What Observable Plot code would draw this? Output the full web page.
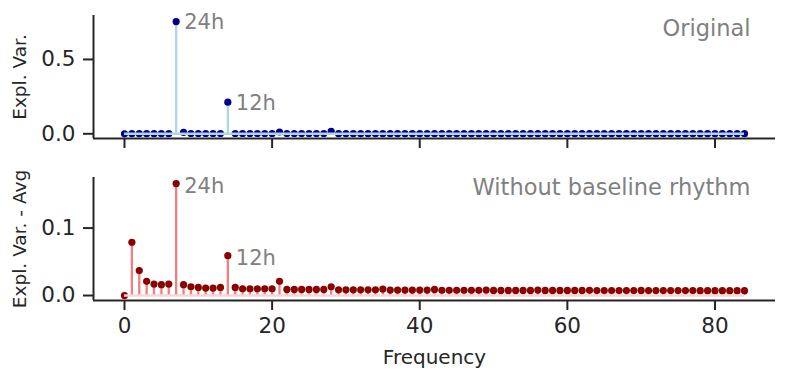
<!DOCTYPE html>
<html>
<head>
<meta charset="utf-8">
<script src="https://cdn.jsdelivr.net/npm/d3@7"></script>
<script src="https://cdn.jsdelivr.net/npm/@observablehq/plot@0.6"></script>
<style>
  html, body { margin: 0; padding: 0; background: #fff; }
  #chart { width: 788px; height: 382px; }
  #chart svg { display: block; }
</style>
</head>
<body>
<div id="chart"></div>
<script>
// ---- Data ----
const frequency = [
  0, 1, 2, 3, 4, 5, 6, 7, 8, 9,
  10, 11, 12, 13, 14, 15, 16, 17, 18, 19,
  20, 21, 22, 23, 24, 25, 26, 27, 28, 29,
  30, 31, 32, 33, 34, 35, 36, 37, 38, 39,
  40, 41, 42, 43, 44, 45, 46, 47, 48, 49,
  50, 51, 52, 53, 54, 55, 56, 57, 58, 59,
  60, 61, 62, 63, 64, 65, 66, 67, 68, 69,
  70, 71, 72, 73, 74, 75, 76, 77, 78, 79,
  80, 81, 82, 83, 84
];
const originalExplVar = [
  0.000, 0.001, 0.001, 0.001, 0.001, 0.001, 0.001, 0.755, 0.010, 0.002,
  0.002, 0.002, 0.002, 0.002, 0.213, 0.002, 0.002, 0.002, 0.002, 0.002,
  0.002, 0.012, 0.002, 0.002, 0.002, 0.002, 0.002, 0.002, 0.017, 0.001,
  0.001, 0.001, 0.001, 0.001, 0.001, 0.001, 0.001, 0.001, 0.001, 0.001,
  0.001, 0.001, 0.001, 0.001, 0.001, 0.001, 0.001, 0.001, 0.001, 0.001,
  0.001, 0.001, 0.001, 0.001, 0.001, 0.001, 0.001, 0.001, 0.001, 0.001,
  0.001, 0.001, 0.001, 0.001, 0.001, 0.001, 0.001, 0.001, 0.001, 0.001,
  0.001, 0.001, 0.001, 0.001, 0.001, 0.001, 0.001, 0.001, 0.001, 0.001,
  0.001, 0.001, 0.001, 0.001, 0.001
];
const residualExplVar = [
  0.000, 0.079, 0.037, 0.021, 0.017, 0.016, 0.017, 0.166, 0.016, 0.013,
  0.012, 0.011, 0.011, 0.012, 0.059, 0.012, 0.010, 0.010, 0.010, 0.010,
  0.010, 0.021, 0.009, 0.009, 0.009, 0.009, 0.009, 0.009, 0.013, 0.0085,
  0.0085, 0.0085, 0.0085, 0.0085, 0.0085, 0.0095, 0.008, 0.008, 0.008, 0.008,
  0.008, 0.008, 0.009, 0.0078, 0.0078, 0.0078, 0.0078, 0.0078, 0.0078, 0.0082,
  0.0076, 0.0076, 0.0076, 0.0076, 0.0076, 0.0076, 0.008, 0.0075, 0.0075, 0.0075,
  0.0075, 0.0075, 0.0075, 0.0078, 0.0074, 0.0074, 0.0074, 0.0074, 0.0074, 0.0074,
  0.0076, 0.0073, 0.0073, 0.0073, 0.0073, 0.0073, 0.0073, 0.0074, 0.0072, 0.0072,
  0.0072, 0.0072, 0.0072, 0.0072, 0.0072
];
const peakFrequencies = [7, 14];
const peakLabels = ["24h", "12h"];
const xTicks = [0, 20, 40, 60, 80];
const topYTicks = [0, 0.5];
const bottomYTicks = [0, 0.1];
const topTitle = "Original";
const bottomTitle = "Without baseline rhythm";
const topYLabel = "Expl. Var.";
const bottomYLabel = "Expl. Var. - Avg";
const xLabel = "Frequency";

// ---- Chart ----
const FONT = "DejaVu Sans, Verdana, sans-serif";
const INK = "#262626";
const xDomain = [-4.2, 88.2];

function panel(opts) {
  const data = frequency.map((f, i) => ({f, v: opts.values[i]}));
  const peaks = peakFrequencies.map((f, i) => ({f, v: opts.values[frequency.indexOf(f)], label: peakLabels[i]}));
  const fMin = frequency[0], fMax = frequency[frequency.length - 1];
  return Plot.plot({
    width: 788,
    height: opts.height,
    marginLeft: 93,
    marginRight: 13,
    marginTop: opts.marginTop,
    marginBottom: opts.marginBottom,
    x: {domain: xDomain},
    y: {domain: opts.yDomain},
    style: {fontFamily: FONT, color: INK, background: "white", overflow: "visible"},
    marks: [
      Plot.axisX({
        ticks: xTicks, tickSize: 10, tickPadding: 7, strokeWidth: 2, stroke: INK,
        fontSize: 21.5, fill: INK,
        tickFormat: opts.showX ? (d => String(d)) : (() => ""),
        label: null
      }),
      Plot.axisY({
        ticks: opts.yTicks, tickSize: 10, tickPadding: 8, strokeWidth: 2, stroke: INK,
        fontSize: 21.5, fill: INK, tickFormat: d3.format(".1f"), label: null
      }),
      Plot.ruleX([xDomain[0]], {stroke: INK, strokeWidth: 2}),
      Plot.ruleY([opts.yDomain[0]], {stroke: INK, strokeWidth: 2}),
      Plot.ruleX(data, {x: "f", y1: 0, y2: "v", stroke: opts.stem, strokeWidth: 2.3}),
      Plot.dot(data, {x: "f", y: "v", r: 3.6, fill: opts.dot, stroke: "none"}),
      Plot.ruleY([0], {x1: fMin, x2: fMax, stroke: opts.base, strokeWidth: 2.5}),
      Plot.text(peaks, {x: "f", y: "v", text: "label", dx: 8, dy: opts.peakDy, textAnchor: "start",
        lineAnchor: "middle", fill: "#808080", fontSize: 21}),
      Plot.text([opts.title], {frameAnchor: "top-right", dx: -25, dy: opts.titleDy, textAnchor: "end",
        lineAnchor: "middle", fill: "#808080", fontSize: 22.5}),
      Plot.text([opts.yLabel], {frameAnchor: "left", dx: -73, rotate: -90, textAnchor: "middle",
        lineAnchor: "middle", fill: INK, fontSize: 18.5}),
      ...(opts.showX ? [Plot.text([xLabel], {frameAnchor: "bottom", dy: 57, textAnchor: "middle",
        lineAnchor: "middle", fill: INK, fontSize: 20})] : [])
    ]
  });
}

const chart = document.getElementById("chart");
chart.append(panel({
  values: originalExplVar, yDomain: [-0.0316, 0.7956], yTicks: topYTicks,
  height: 160, marginTop: 15, marginBottom: 22,
  stem: "#add8e6", dot: "#00008b", base: "#add8e6",
  title: topTitle, titleDy: 13, yLabel: topYLabel, showX: false, peakDy: 1
}));
chart.append(panel({
  values: residualExplVar, yDomain: [-0.0074, 0.175], yTicks: bottomYTicks,
  height: 222, marginTop: 17, marginBottom: 82,
  stem: "#f08080", dot: "#8b0000", base: "#fcd4d4",
  title: bottomTitle, titleDy: 10, yLabel: bottomYLabel, showX: true, peakDy: 3
}));
</script>
</body>
</html>
